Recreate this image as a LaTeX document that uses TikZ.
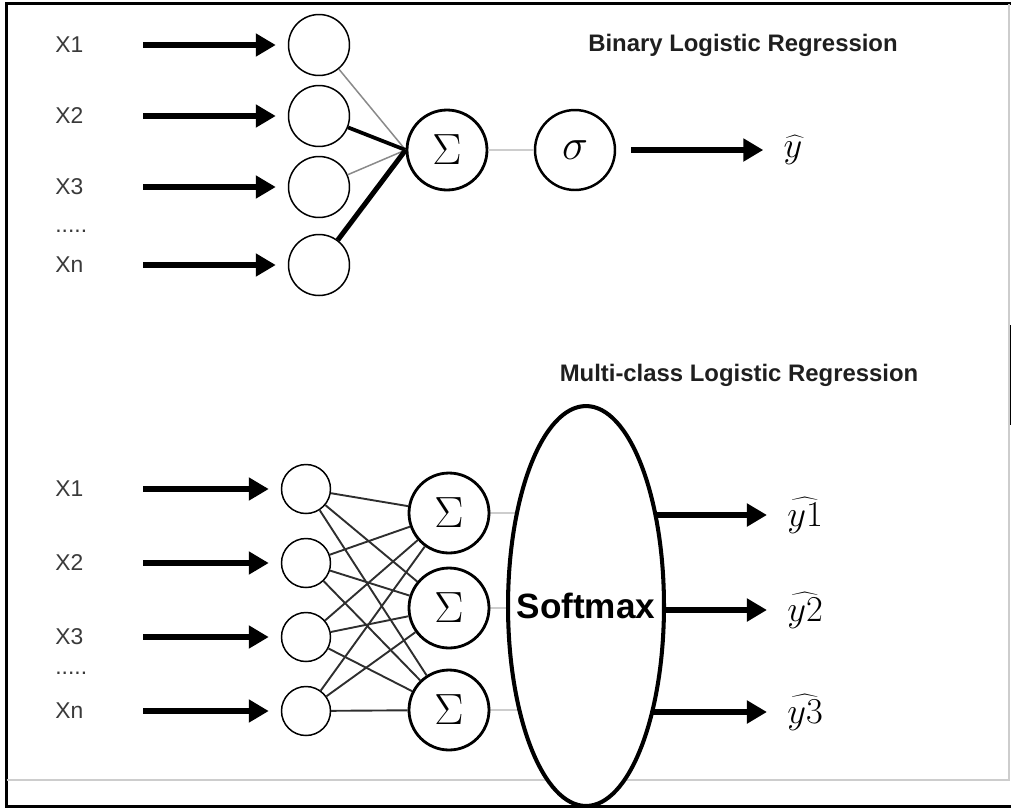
\documentclass[tikz,border=0pt]{standalone}
\usepackage{fontspec}
\setmainfont{Liberation Sans}
\usetikzlibrary{arrows.meta,shapes.geometric,backgrounds}
\definecolor{lbltext}{HTML}{3A3A3A}
\definecolor{thinline}{HTML}{8A8A8A}
\definecolor{paleline}{HTML}{CDCDCD}
\definecolor{meshline}{HTML}{2E2E2E}
\begin{document}
\begin{tikzpicture}[x=0.02cm,y=-0.02cm,
    xlabel/.style={anchor=west,inner sep=0,text width=1.75cm,align=left,text=lbltext,font=\fontsize{13}{15}\selectfont},
    title/.style={font=\bfseries\fontsize{13.6}{16}\selectfont,text=black!88},
    inp/.style={circle,draw,line width=0.85pt,fill=white,minimum size=1.22cm,inner sep=0},
    smallinp/.style={inp,minimum size=0.98cm},
    sumnode/.style={circle,draw,line width=1.6pt,fill=white,minimum size=1.6cm,inner sep=0,font=\fontsize{30}{33}\selectfont},
    outlbl/.style={inner sep=0,font=\fontsize{21}{24}\selectfont},
    inarrow/.style={line width=0.12cm,-{Triangle[length=0.4cm,width=0.44cm]},shorten >=0.24cm},
    outarrow/.style={inarrow,shorten >=0.4cm},
    mesh/.style={meshline,line width=0.038cm}]
\useasboundingbox (0,0) rectangle (1011,809);
% frame
\draw[line width=0.06cm] (1011,3.5) -- (6.5,3.5) -- (6.5,806.5) -- (1011,806.5);
\draw[paleline,line width=0.04cm] (6.5,780) -- (1009,780) -- (1009,4);
\draw[line width=0.02cm] (1010,325) -- (1010,425);

% binary
\node[title] (ttlbin) at (743,45) {Binary Logistic Regression};
\foreach \i/\y/\t in {1/45/X1,2/116/X2,3/187/X3,4/265/Xn}{
    \node[xlabel] (x\i) at (55,\y) {\t};
    \node[inp] (in\i) at (319,\y) {};
    \draw[inarrow] (x\i) -- (in\i);
}
\node[xlabel] (dots) at (55,231) {.....};
\node[sumnode] (sum) at (447,150) {$\Sigma$};
\node[sumnode,line width=1.4pt] (sig) at (575,150) {$\sigma$};
\draw[thinline,line width=0.03cm] (in1) -- (sum.west);
\draw[line width=0.075cm] (in2) -- (sum.west);
\draw[thinline,line width=0.03cm] (in3) -- (sum.west);
\draw[line width=0.1cm] (in4) -- (sum.west);
\draw[paleline,line width=0.04cm] (sum) -- (sig);
\node[outlbl] (yhat) at (793,150) {$\widehat{y}$};
\draw[outarrow,shorten <=0.3cm] (sig) -- (yhat);

% multi-class
\node[title] (ttlmulti) at (739,375) {Multi-class Logistic Regression};
\foreach \i/\y/\t in {1/489/X1,2/563/X2,3/637/X3,4/711/Xn}{
    \node[xlabel] (bx\i) at (55,\y) {\t};
    \node[smallinp] (bin\i) at (306,\y) {};
    \draw[inarrow] (bx\i) -- (bin\i);
}
\node[xlabel] (bdots) at (55,673) {.....};
\foreach \j/\y in {1/513,2/608,3/710}
    \node[sumnode] (bs\j) at (449,\y) {$\Sigma$};
\foreach \i in {1,...,4}
    \foreach \j in {1,2,3}
        \draw[mesh] (bin\i) -- (bs\j);
\node[ellipse,draw,line width=2.3pt,fill=white,minimum width=3.12cm,minimum height=8.0cm,inner sep=0] (soft) at (586,606) {};
\node[font=\bfseries\fontsize{20}{24}\selectfont,inner sep=0] (softlbl) at (soft.center) {Softmax};
\foreach \j/\y in {1/515,2/610,3/712}
    \node[outlbl] (yh\j) at (805,\y) {$\widehat{y\j}$};
\begin{scope}[on background layer]
    \foreach \j in {1,2,3}{
        \draw[paleline,line width=0.04cm] (bs\j) -- (soft.center |- bs\j);
        \draw[outarrow] (soft.center |- yh\j) -- (yh\j);
    }
\end{scope}
\end{tikzpicture}
\end{document}
